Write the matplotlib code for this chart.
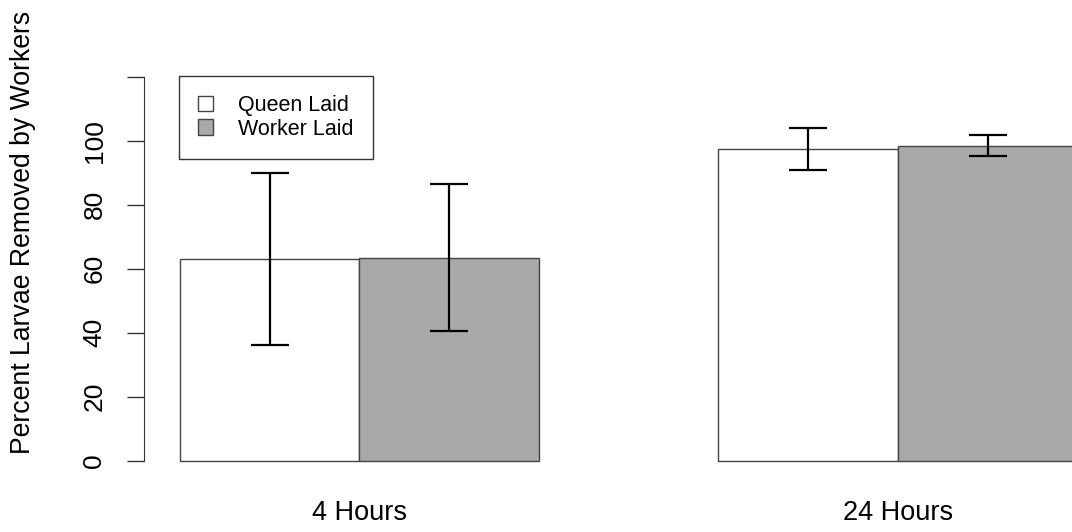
import matplotlib.pyplot as plt
from matplotlib.patches import Patch

# data (mean +/- error)
groups = ["4 Hours", "24 Hours"]
series = ["Queen Laid", "Worker Laid"]
means_queen = [63.0, 97.4]
means_worker = [63.4, 98.4]
err_queen = [26.9, 6.6]
err_worker = [23.0, 3.3]
ytick_vals = [0, 20, 40, 60, 80, 100, 120]
ytick_labels = ["0", "20", "40", "60", "80", "100", ""]

fill_colors = ["white", "#a9a9a9"]


def main():
    plt.rcParams['font.family'] = ['Liberation Sans', 'DejaVu Sans']
    fig = plt.figure(figsize=(10.72, 5.32), dpi=100)
    # axes placed to mimic base R barplot margins
    ax = fig.add_axes([144 / 1072, (532 - 467.1) / 532, 1 - 144 / 1072, (467.1 - 70.3) / 532])

    # R style beside=TRUE, space=c(0, 1): bar left edges at 1, 2 and 4, 5
    left_queen = [1, 4]
    left_worker = [2, 5]
    centers_q = [x + 0.5 for x in left_queen]
    centers_w = [x + 0.5 for x in left_worker]

    ax.bar(centers_q, means_queen, width=1.0, color=fill_colors[0],
           edgecolor="#444444", linewidth=1.0, clip_on=False)
    ax.bar(centers_w, means_worker, width=1.0, color=fill_colors[1],
           edgecolor="#444444", linewidth=1.0, clip_on=False)
    ax.errorbar(centers_q + centers_w, means_queen + means_worker,
                yerr=err_queen + err_worker, fmt="none", ecolor="black",
                elinewidth=1.6, capsize=13.5, capthick=1.6, clip_on=False)

    ax.set_xlim(0.8, 5.97)
    ax.set_ylim(-2, 122)

    for side in ["top", "right", "bottom"]:
        ax.spines[side].set_visible(False)
    ax.spines["left"].set_bounds(0, 120)
    ax.spines["left"].set_color("#333333")

    ax.set_yticks(ytick_vals)
    ax.set_yticklabels(ytick_labels, rotation=90, va="center")
    ax.tick_params(axis="y", length=12, width=1, color="#333333",
                   labelsize=19, pad=15)

    ax.set_xticks([2, 5])
    ax.set_xticklabels(groups)
    ax.tick_params(axis="x", length=0, labelsize=19.5, pad=24)

    fig.text(23 / 1072, 1 - 232 / 532, "Percent Larvae Removed by Workers",
             rotation=90, ha="center", va="center", fontsize=19.2)

    handles = [Patch(facecolor=fill_colors[i], edgecolor="#444444", label=series[i])
               for i in range(2)]
    leg = ax.legend(handles=handles, loc="upper left",
                    bbox_to_anchor=(179 / 1072, 1 - 76 / 532),
                    bbox_transform=fig.transFigure, borderaxespad=0,
                    fancybox=False, edgecolor="#333333", framealpha=1,
                    fontsize=15.5, handlelength=0.7, handleheight=0.7,
                    handletextpad=1.15, borderpad=0.9, labelspacing=0.1)
    leg.get_frame().set_linewidth(1.0)

    fig.savefig("out.png", dpi=100)


if __name__ == "__main__":
    main()
